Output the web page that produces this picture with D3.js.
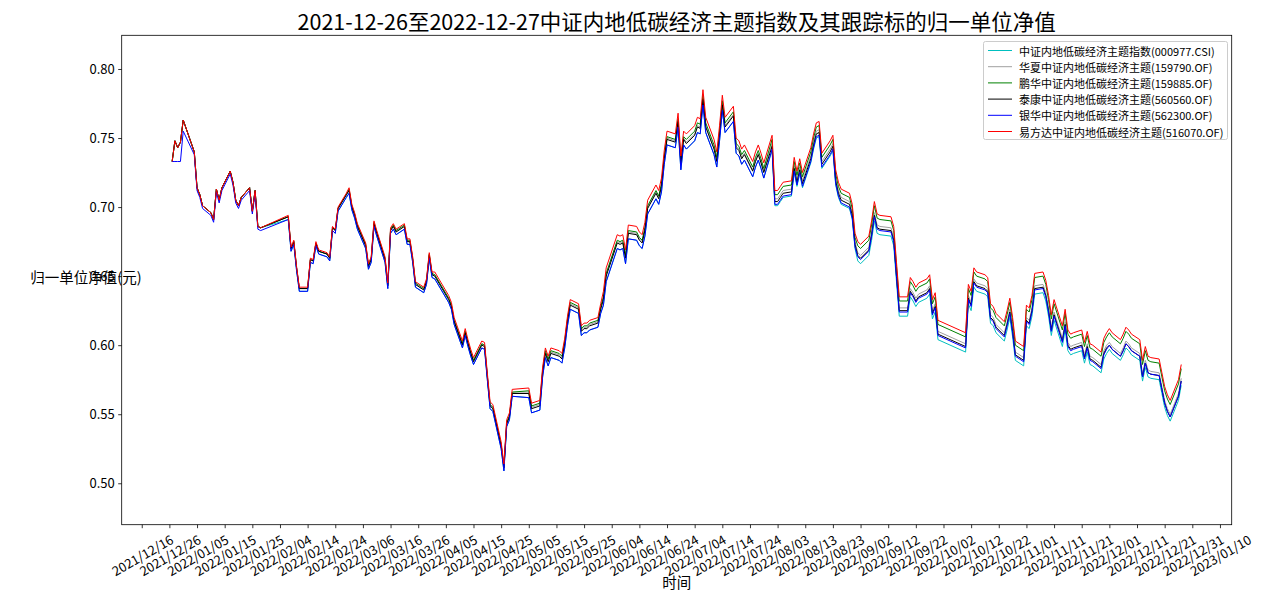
<!DOCTYPE html>
<html>
<head>
<meta charset="utf-8">
<script src="https://cdn.jsdelivr.net/npm/d3@7/dist/d3.min.js"></script>
<style>
  html, body { margin: 0; padding: 0; background: #fff; }
  svg { display: block; }
  text { font-family: "Noto Sans CJK SC", "Noto Sans", sans-serif; fill: #000; }
</style>
</head>
<body>
<svg id="chart" width="1268" height="606"></svg>
<script>
const titleText = "2021-12-26至2022-12-27中证内地低碳经济主题指数及其跟踪标的归一单位净值";
const yLabelText = "归一单位净值(元)";
const xLabelText = "时间";

const seriesNames = [
  "中证内地低碳经济主题指数(000977.CSI)",
  "华夏中证内地低碳经济主题(159790.OF)",
  "鹏华中证内地低碳经济主题(159885.OF)",
  "泰康中证内地低碳经济主题(560560.OF)",
  "银华中证内地低碳经济主题(562300.OF)",
  "易方达中证内地低碳经济主题(516070.OF)"
];
const seriesColors = ["#00bfbf", "#a0a0a0", "#008000", "#000000", "#0000ff", "#ff0000"];

const dates = [
  "2021-12-27","2021-12-28","2021-12-29","2021-12-30","2021-12-31",
  "2022-01-04","2022-01-05","2022-01-06","2022-01-07","2022-01-10","2022-01-11","2022-01-12","2022-01-13","2022-01-14","2022-01-17","2022-01-18","2022-01-19","2022-01-20","2022-01-21","2022-01-24","2022-01-25","2022-01-26","2022-01-27","2022-01-28",
  "2022-02-07","2022-02-08","2022-02-09","2022-02-10","2022-02-11","2022-02-14","2022-02-15","2022-02-16","2022-02-17","2022-02-18","2022-02-21","2022-02-22","2022-02-23","2022-02-24","2022-02-25","2022-02-28",
  "2022-03-01","2022-03-02","2022-03-03","2022-03-04","2022-03-07","2022-03-08","2022-03-09","2022-03-10","2022-03-11","2022-03-14","2022-03-15","2022-03-16","2022-03-17","2022-03-18","2022-03-21","2022-03-22","2022-03-23","2022-03-24","2022-03-25","2022-03-28","2022-03-29","2022-03-30","2022-03-31",
  "2022-04-01","2022-04-06","2022-04-07","2022-04-08","2022-04-11","2022-04-12","2022-04-13","2022-04-14","2022-04-15","2022-04-18","2022-04-19","2022-04-20","2022-04-21","2022-04-22","2022-04-25","2022-04-26","2022-04-27","2022-04-28","2022-04-29",
  "2022-05-05","2022-05-06","2022-05-09","2022-05-10","2022-05-11","2022-05-12","2022-05-13","2022-05-16","2022-05-17","2022-05-18","2022-05-19","2022-05-20","2022-05-23","2022-05-24","2022-05-25","2022-05-26","2022-05-27","2022-05-30","2022-05-31",
  "2022-06-01","2022-06-02","2022-06-06","2022-06-07","2022-06-08","2022-06-09","2022-06-10","2022-06-13","2022-06-14","2022-06-15","2022-06-16","2022-06-17","2022-06-20","2022-06-21","2022-06-22","2022-06-23","2022-06-24","2022-06-27","2022-06-28","2022-06-29","2022-06-30",
  "2022-07-01","2022-07-04","2022-07-05","2022-07-06","2022-07-07","2022-07-08","2022-07-11","2022-07-12","2022-07-13","2022-07-14","2022-07-15","2022-07-18","2022-07-19","2022-07-20","2022-07-21","2022-07-22","2022-07-25","2022-07-26","2022-07-27","2022-07-28","2022-07-29",
  "2022-08-01","2022-08-02","2022-08-03","2022-08-04","2022-08-05","2022-08-08","2022-08-09","2022-08-10","2022-08-11","2022-08-12","2022-08-15","2022-08-16","2022-08-17","2022-08-18","2022-08-19","2022-08-22","2022-08-23","2022-08-24","2022-08-25","2022-08-26","2022-08-29","2022-08-30","2022-08-31",
  "2022-09-01","2022-09-02","2022-09-05","2022-09-06","2022-09-07","2022-09-08","2022-09-09","2022-09-13","2022-09-14","2022-09-15","2022-09-16","2022-09-19","2022-09-20","2022-09-21","2022-09-22","2022-09-23","2022-09-26","2022-09-27","2022-09-28","2022-09-29","2022-09-30",
  "2022-10-10","2022-10-11","2022-10-12","2022-10-13","2022-10-14","2022-10-17","2022-10-18","2022-10-19","2022-10-20","2022-10-21","2022-10-24","2022-10-25","2022-10-26","2022-10-27","2022-10-28","2022-10-31",
  "2022-11-01","2022-11-02","2022-11-03","2022-11-04","2022-11-07","2022-11-08","2022-11-09","2022-11-10","2022-11-11","2022-11-14","2022-11-15","2022-11-16","2022-11-17","2022-11-18","2022-11-21","2022-11-22","2022-11-23","2022-11-24","2022-11-25","2022-11-28","2022-11-29","2022-11-30",
  "2022-12-01","2022-12-02","2022-12-05","2022-12-06","2022-12-07","2022-12-08","2022-12-09","2022-12-12","2022-12-13","2022-12-14","2022-12-15","2022-12-16","2022-12-19","2022-12-20","2022-12-21","2022-12-22","2022-12-23","2022-12-26","2022-12-27"
];

// 中证内地低碳经济主题指数 (cyan)
const indexValues = [
  0.733,0.748,0.743,0.747,0.763,
  0.740,0.714,0.709,0.701,0.696,0.691,0.713,0.705,0.714,0.726,0.718,0.705,0.701,0.707,0.714,0.697,0.712,0.686,0.685,
  0.691,0.668,0.673,0.654,0.639,0.639,0.660,0.659,0.672,0.666,0.664,0.661,0.683,0.681,0.697,0.707,
  0.710,0.698,0.692,0.684,0.670,0.655,0.660,0.686,0.679,0.660,0.641,0.681,0.684,0.680,0.684,0.673,0.673,0.660,0.642,0.638,0.644,0.663,0.649,
  0.648,0.631,0.626,0.615,0.598,0.607,0.599,0.592,0.586,0.598,0.597,0.575,0.554,0.552,0.525,0.509,0.541,0.546,0.563,
  0.562,0.551,0.553,0.577,0.591,0.585,0.591,0.589,0.587,0.598,0.614,0.626,0.623,0.607,0.609,0.609,0.611,0.613,0.623,
  0.629,0.646,0.670,0.669,0.670,0.659,0.677,0.676,0.672,0.670,0.679,0.695,0.706,0.702,0.711,0.731,0.745,0.743,0.758,0.727,0.745,
  0.742,0.748,0.754,0.753,0.774,0.754,0.738,0.729,0.748,0.770,0.754,0.762,0.739,0.737,0.731,0.734,0.722,0.729,0.734,0.728,0.721,
  0.741,0.701,0.701,0.704,0.707,0.708,0.725,0.715,0.724,0.714,0.732,0.742,0.750,0.751,0.728,0.737,0.741,0.716,0.707,0.702,0.699,0.691,0.670,
  0.661,0.659,0.665,0.676,0.690,0.681,0.680,0.679,0.672,0.646,0.621,0.621,0.635,0.632,0.628,0.631,0.634,0.637,0.619,0.624,0.604,
  0.595,0.630,0.625,0.642,0.639,0.637,0.635,0.616,0.614,0.609,0.603,0.611,0.620,0.606,0.589,0.585,
  0.614,0.612,0.621,0.637,0.638,0.632,0.621,0.607,0.618,0.599,0.611,0.596,0.593,0.594,0.596,0.587,0.595,0.586,0.585,0.580,0.590,0.594,
  0.597,0.594,0.589,0.593,0.598,0.596,0.593,0.589,0.574,0.584,0.577,0.576,0.575,0.565,0.555,0.549,0.545,0.560,0.571
];

// 华夏 (gray)
const huaxiaValues = [
  0.733,0.748,0.743,0.747,0.763,
  0.740,0.714,0.709,0.701,0.696,0.691,0.713,0.705,0.714,0.726,0.718,0.705,0.701,0.707,0.714,0.697,0.712,0.686,0.685,
  0.693,0.670,0.675,0.656,0.641,0.641,0.662,0.661,0.674,0.668,0.666,0.663,0.685,0.683,0.699,0.709,
  0.712,0.700,0.694,0.686,0.672,0.657,0.662,0.688,0.681,0.662,0.643,0.683,0.686,0.682,0.686,0.675,0.675,0.662,0.644,0.640,0.646,0.665,0.651,
  0.651,0.634,0.629,0.618,0.601,0.610,0.602,0.595,0.589,0.601,0.600,0.578,0.557,0.555,0.528,0.512,0.544,0.549,0.566,
  0.566,0.555,0.557,0.581,0.595,0.589,0.595,0.593,0.591,0.602,0.618,0.630,0.627,0.611,0.613,0.613,0.615,0.617,0.627,
  0.634,0.651,0.675,0.674,0.675,0.664,0.682,0.681,0.677,0.675,0.684,0.700,0.711,0.707,0.716,0.736,0.750,0.748,0.763,0.732,0.750,
  0.747,0.753,0.759,0.758,0.779,0.759,0.743,0.734,0.753,0.775,0.759,0.767,0.744,0.742,0.736,0.739,0.727,0.734,0.739,0.733,0.726,
  0.746,0.706,0.706,0.709,0.712,0.713,0.730,0.720,0.729,0.719,0.737,0.747,0.755,0.756,0.733,0.742,0.746,0.721,0.712,0.707,0.704,0.696,0.675,
  0.667,0.665,0.671,0.682,0.696,0.687,0.686,0.685,0.678,0.652,0.627,0.627,0.641,0.638,0.634,0.637,0.640,0.643,0.625,0.630,0.610,
  0.601,0.636,0.631,0.648,0.645,0.643,0.641,0.622,0.620,0.615,0.609,0.617,0.626,0.612,0.595,0.591,
  0.620,0.618,0.627,0.643,0.644,0.638,0.627,0.613,0.624,0.605,0.617,0.602,0.599,0.600,0.602,0.593,0.601,0.592,0.591,0.586,0.596,0.600,
  0.602,0.599,0.594,0.598,0.603,0.601,0.598,0.594,0.579,0.589,0.582,0.581,0.580,0.570,0.560,0.554,0.550,0.565,0.576
];

// 鹏华 (green)
const penghuaValues = [
  0.733,0.748,0.743,0.747,0.763,
  0.740,0.714,0.709,0.701,0.696,0.691,0.713,0.705,0.714,0.726,0.718,0.705,0.701,0.707,0.714,0.697,0.712,0.686,0.685,
  0.693,0.670,0.675,0.656,0.641,0.641,0.662,0.661,0.674,0.668,0.666,0.663,0.685,0.683,0.699,0.709,
  0.713,0.701,0.695,0.687,0.673,0.658,0.663,0.689,0.682,0.663,0.644,0.684,0.687,0.683,0.687,0.676,0.676,0.663,0.645,0.641,0.647,0.666,0.652,
  0.651,0.634,0.629,0.618,0.601,0.610,0.602,0.595,0.589,0.601,0.600,0.578,0.557,0.555,0.528,0.512,0.544,0.549,0.566,
  0.567,0.556,0.558,0.582,0.596,0.590,0.596,0.594,0.592,0.603,0.619,0.631,0.628,0.612,0.614,0.614,0.616,0.618,0.628,
  0.635,0.652,0.676,0.675,0.676,0.665,0.683,0.682,0.678,0.676,0.685,0.701,0.712,0.708,0.717,0.737,0.751,0.749,0.764,0.733,0.751,
  0.749,0.755,0.761,0.760,0.781,0.761,0.745,0.736,0.755,0.777,0.761,0.769,0.746,0.744,0.738,0.741,0.729,0.736,0.741,0.735,0.728,
  0.749,0.709,0.709,0.712,0.715,0.716,0.733,0.723,0.732,0.722,0.740,0.750,0.758,0.759,0.736,0.745,0.749,0.724,0.715,0.710,0.707,0.699,0.678,
  0.672,0.670,0.676,0.687,0.701,0.692,0.691,0.690,0.683,0.657,0.632,0.632,0.646,0.643,0.639,0.642,0.645,0.648,0.630,0.635,0.615,
  0.606,0.641,0.636,0.653,0.650,0.648,0.646,0.627,0.625,0.620,0.614,0.622,0.631,0.617,0.600,0.596,
  0.626,0.624,0.633,0.649,0.650,0.644,0.633,0.619,0.630,0.611,0.623,0.608,0.605,0.606,0.608,0.599,0.607,0.598,0.597,0.592,0.602,0.606,
  0.609,0.606,0.601,0.605,0.610,0.608,0.605,0.601,0.586,0.596,0.589,0.588,0.587,0.577,0.567,0.561,0.557,0.572,0.583
];

// 泰康 (black)
const taikangValues = [
  0.733,0.748,0.743,0.747,0.763,
  0.740,0.714,0.709,0.701,0.696,0.691,0.713,0.705,0.714,0.726,0.718,0.705,0.701,0.707,0.714,0.697,0.712,0.686,0.685,
  0.693,0.670,0.675,0.656,0.641,0.641,0.662,0.661,0.674,0.668,0.666,0.663,0.685,0.683,0.699,0.709,
  0.712,0.700,0.694,0.686,0.672,0.657,0.662,0.688,0.681,0.662,0.643,0.683,0.686,0.682,0.686,0.675,0.675,0.662,0.644,0.640,0.646,0.665,0.651,
  0.650,0.633,0.628,0.617,0.600,0.609,0.601,0.594,0.588,0.600,0.599,0.577,0.556,0.554,0.527,0.511,0.543,0.548,0.565,
  0.565,0.554,0.556,0.580,0.594,0.588,0.594,0.592,0.590,0.601,0.617,0.629,0.626,0.610,0.612,0.612,0.614,0.616,0.626,
  0.633,0.650,0.674,0.673,0.674,0.663,0.681,0.680,0.676,0.674,0.683,0.699,0.710,0.706,0.715,0.735,0.749,0.747,0.762,0.731,0.749,
  0.746,0.752,0.758,0.757,0.778,0.758,0.742,0.733,0.752,0.774,0.758,0.766,0.743,0.741,0.735,0.738,0.726,0.733,0.738,0.732,0.725,
  0.744,0.704,0.704,0.707,0.710,0.711,0.728,0.718,0.727,0.717,0.735,0.745,0.753,0.754,0.731,0.740,0.744,0.719,0.710,0.705,0.702,0.694,0.673,
  0.665,0.663,0.669,0.680,0.694,0.685,0.684,0.683,0.676,0.650,0.625,0.625,0.639,0.636,0.632,0.635,0.638,0.641,0.623,0.628,0.608,
  0.599,0.634,0.629,0.646,0.643,0.641,0.639,0.620,0.618,0.613,0.607,0.615,0.624,0.610,0.593,0.589,
  0.618,0.616,0.625,0.641,0.642,0.636,0.625,0.611,0.622,0.603,0.615,0.600,0.597,0.598,0.600,0.591,0.599,0.590,0.589,0.584,0.594,0.598,
  0.600,0.597,0.592,0.596,0.601,0.599,0.596,0.592,0.577,0.587,0.580,0.579,0.578,0.568,0.558,0.552,0.548,0.563,0.574
];

// 银华 (blue)
const yinhuaValues = [
  0.733,0.733,0.733,0.733,0.755,
  0.738,0.712,0.707,0.699,0.694,0.689,0.711,0.703,0.712,0.724,0.716,0.703,0.699,0.705,0.712,0.695,0.710,0.684,0.683,
  0.691,0.668,0.673,0.654,0.639,0.639,0.660,0.659,0.672,0.666,0.664,0.661,0.683,0.681,0.697,0.707,
  0.710,0.698,0.692,0.684,0.670,0.655,0.660,0.686,0.679,0.660,0.641,0.681,0.684,0.680,0.684,0.673,0.673,0.660,0.642,0.638,0.644,0.663,0.649,
  0.648,0.631,0.626,0.615,0.598,0.607,0.599,0.592,0.586,0.598,0.597,0.575,0.554,0.552,0.525,0.509,0.541,0.546,0.563,
  0.562,0.551,0.553,0.577,0.591,0.585,0.591,0.589,0.587,0.598,0.614,0.626,0.623,0.607,0.609,0.609,0.611,0.613,0.623,
  0.629,0.646,0.670,0.669,0.670,0.659,0.677,0.676,0.672,0.670,0.679,0.695,0.706,0.702,0.711,0.731,0.745,0.743,0.758,0.727,0.745,
  0.742,0.748,0.754,0.753,0.774,0.754,0.738,0.729,0.748,0.770,0.754,0.762,0.739,0.737,0.731,0.734,0.722,0.729,0.734,0.728,0.721,
  0.742,0.702,0.702,0.705,0.708,0.709,0.726,0.716,0.725,0.715,0.733,0.743,0.751,0.752,0.729,0.738,0.742,0.717,0.708,0.703,0.700,0.692,0.671,
  0.664,0.662,0.668,0.679,0.693,0.684,0.683,0.682,0.675,0.649,0.624,0.624,0.638,0.635,0.631,0.634,0.637,0.640,0.622,0.627,0.607,
  0.598,0.633,0.628,0.645,0.642,0.640,0.638,0.619,0.617,0.612,0.606,0.614,0.623,0.609,0.592,0.588,
  0.617,0.615,0.624,0.640,0.641,0.635,0.624,0.610,0.621,0.602,0.614,0.599,0.596,0.597,0.599,0.590,0.598,0.589,0.588,0.583,0.593,0.597,
  0.600,0.597,0.592,0.596,0.601,0.599,0.596,0.592,0.577,0.587,0.580,0.579,0.578,0.568,0.558,0.552,0.548,0.563,0.574
];

// 易方达 (red)
const efundValues = [
  0.733,0.748,0.743,0.747,0.763,
  0.740,0.714,0.709,0.701,0.696,0.691,0.713,0.705,0.714,0.726,0.718,0.705,0.701,0.707,0.714,0.697,0.712,0.686,0.685,
  0.694,0.671,0.676,0.657,0.642,0.642,0.663,0.662,0.675,0.669,0.667,0.664,0.686,0.684,0.700,0.710,
  0.714,0.702,0.696,0.688,0.674,0.659,0.664,0.690,0.683,0.664,0.645,0.685,0.688,0.684,0.688,0.677,0.677,0.664,0.646,0.642,0.648,0.667,0.653,
  0.653,0.636,0.631,0.620,0.603,0.612,0.604,0.597,0.591,0.603,0.602,0.580,0.559,0.557,0.530,0.514,0.546,0.551,0.568,
  0.569,0.558,0.560,0.584,0.598,0.592,0.598,0.596,0.594,0.605,0.621,0.633,0.630,0.614,0.616,0.616,0.618,0.620,0.630,
  0.639,0.656,0.680,0.679,0.680,0.669,0.687,0.686,0.682,0.680,0.689,0.705,0.716,0.712,0.721,0.741,0.755,0.753,0.768,0.737,0.755,
  0.753,0.759,0.765,0.764,0.785,0.765,0.749,0.740,0.759,0.781,0.765,0.773,0.750,0.748,0.742,0.745,0.733,0.740,0.745,0.739,0.732,
  0.752,0.712,0.712,0.715,0.718,0.719,0.736,0.726,0.735,0.725,0.743,0.753,0.761,0.762,0.739,0.748,0.752,0.727,0.718,0.713,0.710,0.702,0.681,
  0.675,0.673,0.679,0.690,0.704,0.695,0.694,0.693,0.686,0.660,0.635,0.635,0.649,0.646,0.642,0.645,0.648,0.651,0.633,0.638,0.618,
  0.609,0.644,0.639,0.656,0.653,0.651,0.649,0.630,0.628,0.623,0.617,0.625,0.634,0.620,0.603,0.599,
  0.629,0.627,0.636,0.652,0.653,0.647,0.636,0.622,0.633,0.614,0.626,0.611,0.608,0.609,0.611,0.602,0.610,0.601,0.600,0.595,0.605,0.609,
  0.612,0.609,0.604,0.608,0.613,0.611,0.608,0.604,0.589,0.599,0.592,0.591,0.590,0.580,0.570,0.564,0.560,0.575,0.586
];

const yTickValues = [0.50, 0.55, 0.60, 0.65, 0.70, 0.75, 0.80];
const yTickLabels = ["0.50", "0.55", "0.60", "0.65", "0.70", "0.75", "0.80"];
const xTickLabels = [
  "2021/12/16","2021/12/26","2022/01/05","2022/01/15","2022/01/25","2022/02/04","2022/02/14","2022/02/24",
  "2022/03/06","2022/03/16","2022/03/26","2022/04/05","2022/04/15","2022/04/25","2022/05/05","2022/05/15",
  "2022/05/25","2022/06/04","2022/06/14","2022/06/24","2022/07/04","2022/07/14","2022/07/24","2022/08/03",
  "2022/08/13","2022/08/23","2022/09/02","2022/09/12","2022/09/22","2022/10/02","2022/10/12","2022/10/22",
  "2022/11/01","2022/11/11","2022/11/21","2022/12/01","2022/12/11","2022/12/21","2022/12/31","2023/01/10"
];
const yDomain = [0.4700, 0.8244];

// ---------- drawing ----------
const allSeries = [indexValues, huaxiaValues, penghuaValues, taikangValues, yinhuaValues, efundValues];
allSeries.forEach((s, i) => { if (s.length !== dates.length) console.error("length mismatch", i, s.length, dates.length); });

const parse = d3.timeParse("%Y-%m-%d");
const parseTick = d3.timeParse("%Y/%m/%d");
const dateObjs = dates.map(parse);

const plot = { left: 121.7, right: 1231.7, top: 35.3, bottom: 524.7 };

const ext = d3.extent(dateObjs);
const span = ext[1] - ext[0];
const x = d3.scaleTime()
  .domain([new Date(+ext[0] - 0.05 * span), new Date(+ext[1] + 0.05 * span)])
  .range([plot.left, plot.right]);
const y = d3.scaleLinear().domain(yDomain).range([plot.bottom, plot.top]);

const svg = d3.select("#chart");
svg.append("rect").attr("width", 1268).attr("height", 606).attr("fill", "#fff");

// lines
const lineGen = d3.line()
  .x((d, i) => x(dateObjs[i]))
  .y(d => y(d));

const gLines = svg.append("g");
allSeries.forEach((s, i) => {
  gLines.append("path")
    .attr("d", lineGen(s))
    .attr("fill", "none")
    .attr("stroke", seriesColors[i])
    .attr("stroke-width", 1)
    .attr("stroke-linejoin", "round");
});

// axes
const xTickDates = xTickLabels.map(parseTick);
const xAxis = d3.axisBottom(x)
  .tickValues(xTickDates)
  .tickSize(3.5)
  .tickPadding(3.5)
  .tickFormat((d, i) => xTickLabels[i]);
const gx = svg.append("g")
  .attr("transform", `translate(0,${plot.bottom})`)
  .call(xAxis);
gx.select(".domain").remove();
gx.selectAll(".tick line").attr("stroke", "#000").attr("stroke-width", 0.8);
const tickFont = 13;
gx.selectAll(".tick text")
  .attr("font-size", tickFont)
  .attr("text-anchor", "middle")
  .attr("dy", null)
  .attr("dominant-baseline", "central")
  .attr("y", 0)
  .attr("x", 0)
  .each(function () {
    // center the rotated label box on the tick, its top just under the tick
    const L = this.getComputedTextLength();
    const h = tickFont;
    const cy = 7.5 + 0.25 * L + 0.433 * h;
    d3.select(this).attr("transform", `translate(0,${cy}) rotate(-30)`);
  });

const yAxis = d3.axisLeft(y)
  .tickValues(yTickValues)
  .tickSize(3.5)
  .tickPadding(3.5)
  .tickFormat((d, i) => yTickLabels[i]);
const gy = svg.append("g")
  .attr("transform", `translate(${plot.left},0)`)
  .call(yAxis);
gy.select(".domain").remove();
gy.selectAll(".tick line").attr("stroke", "#000").attr("stroke-width", 0.8);
gy.selectAll(".tick text").attr("font-size", 13);

// frame
svg.append("rect")
  .attr("x", plot.left).attr("y", plot.top)
  .attr("width", plot.right - plot.left).attr("height", plot.bottom - plot.top)
  .attr("fill", "none").attr("stroke", "#000").attr("stroke-width", 0.8);

// title and labels
svg.append("text")
  .attr("x", (plot.left + plot.right) / 2).attr("y", 30)
  .attr("text-anchor", "middle")
  .attr("font-size", 21.5)
  .text(titleText);

svg.append("text")
  .attr("x", 86).attr("y", 276)
  .attr("text-anchor", "middle")
  .attr("dominant-baseline", "central")
  .attr("font-size", 14.5)
  .text(yLabelText);

svg.append("text")
  .attr("x", (plot.left + plot.right) / 2).attr("y", 581)
  .attr("text-anchor", "middle")
  .attr("dominant-baseline", "central")
  .attr("font-size", 14.5)
  .text(xLabelText);

// legend
const leg = svg.append("g");
leg.append("rect")
  .attr("x", 983.5).attr("y", 41.5).attr("width", 244).attr("height", 98)
  .attr("rx", 2).attr("fill", "#fff").attr("fill-opacity", 0.8)
  .attr("stroke", "#cccccc").attr("stroke-width", 1);
seriesNames.forEach((name, i) => {
  const cy = 50.5 + i * 16.2;
  leg.append("line")
    .attr("x1", 988).attr("x2", 1012).attr("y1", cy).attr("y2", cy)
    .attr("stroke", seriesColors[i]).attr("stroke-width", 1);
  leg.append("text")
    .attr("x", 1019).attr("y", cy)
    .attr("dominant-baseline", "central")
    .attr("font-size", 11)
    .text(name);
});
</script>
</body>
</html>
